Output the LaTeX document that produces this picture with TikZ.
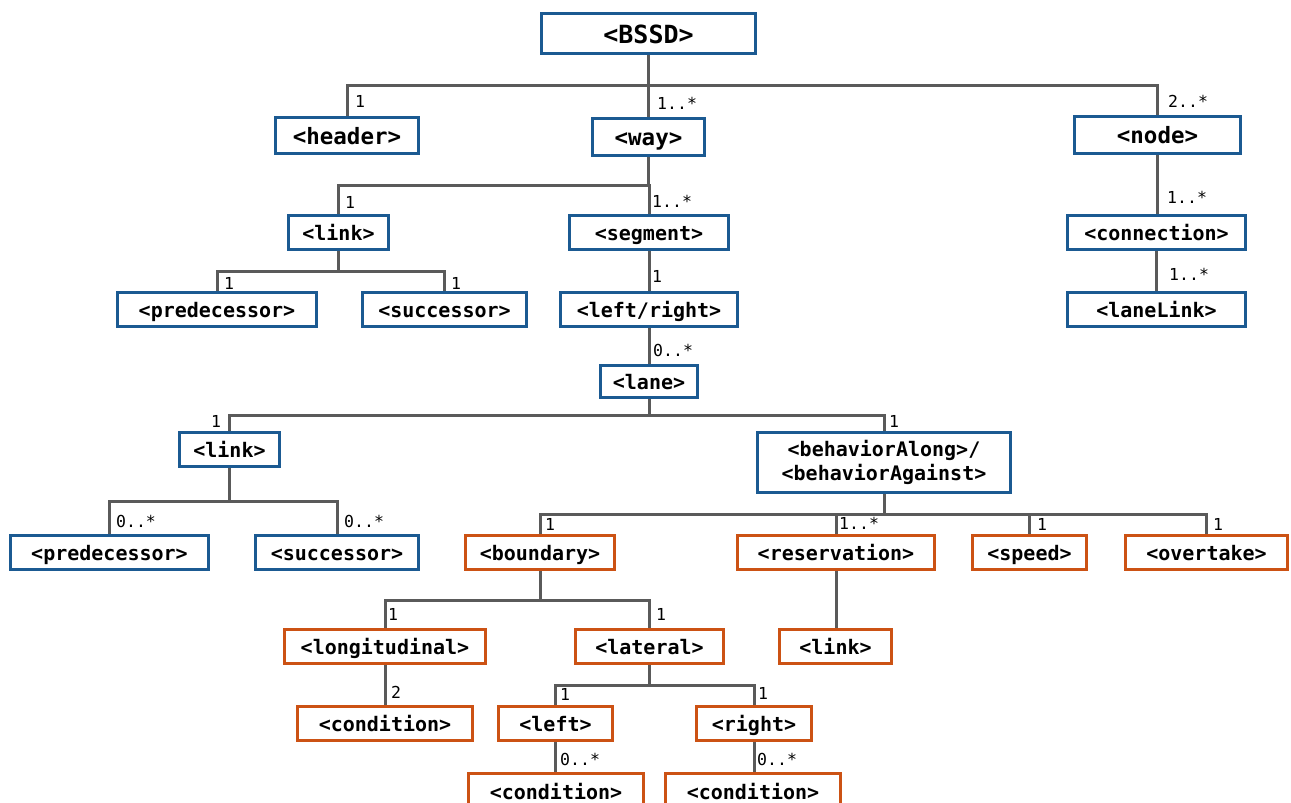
\documentclass[tikz,border=0pt]{standalone}
\usepackage{fontspec}
\setmonofont{DejaVu Sans Mono}
\begin{document}
\definecolor{bblue}{HTML}{1B5A92}
\definecolor{borange}{HTML}{CC5214}
\definecolor{lgray}{HTML}{5A5A5A}
\tikzset{
  elem/.style={draw, line width=3pt, fill=white, inner sep=0pt, outer sep=1.5pt,
    align=center, font=\ttfamily\bfseries\fontsize{20}{23.5}\selectfont},
  oneline/.style={text height=15pt, text depth=0pt},
  bluebox/.style={elem, oneline, draw=bblue},
  orangebox/.style={elem, oneline, draw=borange},
  twolinebox/.style={elem, draw=bblue},
  rootbox/.style={bluebox, text height=19pt, font=\ttfamily\bfseries\fontsize{25}{30}\selectfont},
  topbox/.style={bluebox, text height=17pt, font=\ttfamily\bfseries\fontsize{22.5}{27}\selectfont},
  conn/.style={draw=lgray, line width=3pt},
  mult/.style={inner sep=0pt, anchor=west, font=\ttfamily\fontsize{16.5}{19}\selectfont}
}
% box given by its outer corners (x1,y1)-(x2,y2), y measured downwards
\newcommand\elembox[7]{%
  \node[#1, minimum width={(#5-#3-3)*1pt}, minimum height={(#6-#4-3)*1pt}]
    (#2) at ({(#3+#5)/2},{(#4+#6)/2}) {#7};}
\begin{tikzpicture}[x=1pt,y=-1pt]
\path[use as bounding box, fill=white] (0,0) rectangle (1291,803);
\clip (0,0) rectangle (1291,803);

% ---- elements ----
\elembox{rootbox}{bssd}{540}{12}{757}{55}{<BSSD>}
\elembox{topbox}{header}{274}{116}{420}{155}{<header>}
\elembox{topbox}{way}{591}{117}{706}{157}{<way>}
\elembox{topbox}{node}{1073}{115}{1242}{155}{<node>}

\elembox{bluebox}{wlink}{287}{214}{390}{251}{<link>}
\elembox{bluebox}{segment}{568}{214}{730}{251}{<segment>}
\elembox{bluebox}{wpred}{116}{291}{318}{328}{<predecessor>}
\elembox{bluebox}{wsucc}{361}{291}{528}{328}{<successor>}
\elembox{bluebox}{leftright}{559}{291}{739}{328}{<left/right>}
\elembox{bluebox}{connection}{1066}{214}{1247}{251}{<connection>}
\elembox{bluebox}{lanelink}{1066}{291}{1247}{328}{<laneLink>}

\elembox{bluebox}{lane}{599}{364}{699}{399}{<lane>}
\elembox{bluebox}{llink}{178}{431}{281}{468}{<link>}
\elembox{twolinebox}{behavior}{756}{431}{1012}{494}{<behaviorAlong>/\\<behaviorAgainst>}
\elembox{bluebox}{lpred}{9}{534}{210}{571}{<predecessor>}
\elembox{bluebox}{lsucc}{254}{534}{420}{571}{<successor>}

\elembox{orangebox}{boundary}{464}{534}{616}{571}{<boundary>}
\elembox{orangebox}{reservation}{736}{534}{936}{571}{<reservation>}
\elembox{orangebox}{speed}{971}{534}{1088}{571}{<speed>}
\elembox{orangebox}{overtake}{1124}{534}{1289}{571}{<overtake>}
\elembox{orangebox}{longitudinal}{283}{628}{487}{665}{<longitudinal>}
\elembox{orangebox}{lateral}{574}{628}{725}{665}{<lateral>}
\elembox{orangebox}{rlink}{778}{628}{893}{665}{<link>}
\elembox{orangebox}{lcond}{296}{705}{474}{742}{<condition>}
\elembox{orangebox}{left}{497}{705}{614}{742}{<left>}
\elembox{orangebox}{right}{695}{705}{813}{742}{<right>}
\elembox{orangebox}{leftcond}{467}{772}{645}{812}{<condition>}
\elembox{orangebox}{rightcond}{664}{772}{842}{812}{<condition>}

% ---- connectors ----
\foreach \c in {header,way,node}
  \draw[conn] (bssd.south) -- ++(0,30) -| (\c.north);
\foreach \c in {wlink,segment}
  \draw[conn] (way.south) -- ++(0,28) -| (\c.north);
\foreach \c in {wpred,wsucc}
  \draw[conn] (wlink.south) -- ++(0,20) -| (\c.north);
\draw[conn] (segment.south) -- (segment.south |- leftright.north);
\draw[conn] (node.south) -- (node.south |- connection.north);
\draw[conn] (connection.south) -- (connection.south |- lanelink.north);
\draw[conn] (leftright.south) -- (leftright.south |- lane.north);
\foreach \c in {llink,behavior}
  \draw[conn] (lane.south) -- ++(0,16) -| (\c.north);
\foreach \c in {lpred,lsucc}
  \draw[conn] (llink.south) -- ++(0,33) -| (\c.north);
\foreach \c in {boundary,reservation,speed,overtake}
  \draw[conn] (behavior.south) -- ++(0,20) -| (\c.north);
\foreach \c in {longitudinal,lateral}
  \draw[conn] (boundary.south) -- ++(0,29) -| (\c.north);
\draw[conn] (reservation.south) -- (reservation.south |- rlink.north);
\draw[conn] (longitudinal.south) -- (longitudinal.south |- lcond.north);
\foreach \c in {left,right}
  \draw[conn] (lateral.south) -- ++(0,20) -| (\c.north);
\draw[conn] (left.south) -- (left.south |- leftcond.north);
\draw[conn] (right.south) -- (right.south |- rightcond.north);

% ---- multiplicities ----
\node[mult] (m1) at (355,101) {1};
\node[mult] (m2) at (657,103) {1..*};
\node[mult] (m3) at (1168,101) {2..*};
\node[mult] (m4) at (345,202) {1};
\node[mult] (m5) at (652,201) {1..*};
\node[mult] (m6) at (224,283) {1};
\node[mult] (m7) at (451,283) {1};
\node[mult] (m8) at (652,276) {1};
\node[mult] (m9) at (1167,197) {1..*};
\node[mult] (m10) at (1169,274) {1..*};
\node[mult] (m11) at (653,350) {0..*};
\node[mult] (m12) at (211,421) {1};
\node[mult] (m13) at (889,421) {1};
\node[mult] (m14) at (116,521) {0..*};
\node[mult] (m15) at (344,521) {0..*};
\node[mult] (m16) at (545,524) {1};
\node[mult] (m17) at (839,523) {1..*};
\node[mult] (m18) at (1037,524) {1};
\node[mult] (m19) at (1213,524) {1};
\node[mult] (m20) at (388,614) {1};
\node[mult] (m21) at (656,614) {1};
\node[mult] (m22) at (391,692) {2};
\node[mult] (m23) at (560,694) {1};
\node[mult] (m24) at (758,693) {1};
\node[mult] (m25) at (560,759) {0..*};
\node[mult] (m26) at (757,759) {0..*};
\end{tikzpicture}
\end{document}
